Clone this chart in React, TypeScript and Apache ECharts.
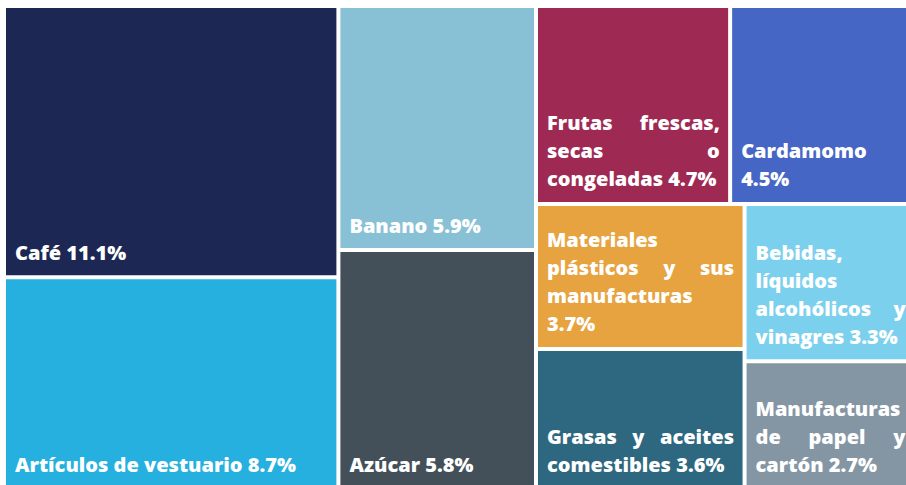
import React, { useEffect, useRef } from "react";
import * as echarts from "echarts";

const categories = [
  "Café",
  "Artículos de vestuario",
  "Banano",
  "Azúcar",
  "Frutas frescas, secas o congeladas",
  "Cardamomo",
  "Materiales plásticos y sus manufacturas",
  "Grasas y aceites comestibles",
  "Bebidas, líquidos alcohólicos y vinagres",
  "Manufacturas de papel y cartón",
];
const shares = [11.1, 8.7, 5.9, 5.8, 4.7, 4.5, 3.7, 3.6, 3.3, 2.7];
const colors = [
  "#1c2754",
  "#25b0e0",
  "#88c1d6",
  "#435059",
  "#9e2a54",
  "#4666c5",
  "#e6a33f",
  "#2e6880",
  "#7bd0ee",
  "#8496a3",
];

const FONT_FAMILY = "Open Sans";
const FONT_WEIGHT = 800;
const FONT_SIZE = 20;
const LINE_H = 28;
const PAD_L = 9;
const PAD_R = 8;
const PAD_B = 9;

export default function App() {
  const ref = useRef<HTMLDivElement>(null);
  useEffect(() => {
    if (!ref.current) return;
    const chart = echarts.init(ref.current, null, { renderer: "svg" });
    const labelText = (i: number) => `${categories[i]} ${shares[i]}%`;
    const baseLabel = {
      show: true,
      position: "insideBottomLeft",
      distance: 0,
      padding: [0, PAD_R, PAD_B, PAD_L],
      color: "#ffffff",
      fontFamily: FONT_FAMILY,
      fontWeight: FONT_WEIGHT,
      fontSize: FONT_SIZE,
      lineHeight: LINE_H,
      overflow: "break",
    };
    const makeData = (labels?: any[]) =>
      categories.map((name, i) => ({
        name,
        value: shares[i],
        itemStyle: { color: colors[i] },
        ...(labels ? { label: labels[i] } : {}),
      }));
    const baseOption = {
      animation: false,
      backgroundColor: "#ffffff",
      series: [
        {
          type: "treemap",
          left: 6,
          top: 8,
          width: 908,
          height: 480,
          roam: false,
          nodeClick: false,
          breadcrumb: { show: false },
          squareRatio: 1,
          itemStyle: { borderWidth: 0, gapWidth: 4, borderColor: "#ffffff" },
          levels: [{ itemStyle: { borderWidth: 0, gapWidth: 4 } }],
          label: { ...baseLabel, formatter: (p: any) => `${p.name} ${p.value}%` },
          data: makeData(),
        },
      ],
    };
    chart.setOption(baseOption as any);

    // Justified, bottom-placed labels (as in the reference), built from each cell's layout.
    try {
      const canvas = document.createElement("canvas");
      const ctx = canvas.getContext("2d")!;
      ctx.font = `${FONT_WEIGHT} ${FONT_SIZE}px "${FONT_FAMILY}"`;
      const mw = (s: string) => ctx.measureText(s).width;
      const spaceW = mw(" ");
      const seriesModel = (chart as any).getModel().getSeriesByIndex(0);
      const sdata = seriesModel.getData();
      const layoutByName: Record<string, any> = {};
      for (let k = 0; k < sdata.count(); k++) {
        const lay = sdata.getItemLayout(k);
        const nm = sdata.getName(k);
        if (lay && nm) layoutByName[nm] = lay;
      }
      const wordStyle = {
        fontFamily: FONT_FAMILY,
        fontWeight: FONT_WEIGHT,
        fontSize: FONT_SIZE,
        lineHeight: LINE_H,
        color: "#ffffff",
      };
      const labels = categories.map((name, i) => {
        const lay = layoutByName[name];
        if (!lay) return undefined;
        const avail = lay.width - PAD_L - PAD_R;
        const words = labelText(i).split(" ");
        const lines: string[][] = [];
        let cur: string[] = [];
        let curW = 0;
        for (const w of words) {
          const ww = mw(w);
          if (cur.length === 0) {
            cur = [w];
            curW = ww;
          } else if (curW + spaceW + ww <= avail) {
            cur.push(w);
            curW += spaceW + ww;
          } else {
            lines.push(cur);
            cur = [w];
            curW = ww;
          }
        }
        if (cur.length) lines.push(cur);
        const spH = Math.max(1, lay.height - PAD_B - lines.length * LINE_H);
        const rich: Record<string, any> = {
          w: wordStyle,
          sp: { fontSize: 1, lineHeight: spH, height: spH, color: "rgba(0,0,0,0)" },
        };
        let g = 0;
        const parts = lines.map((ln, li) => {
          const last = li === lines.length - 1;
          if (last || ln.length < 2) return `{w|${ln.join(" ")}}`;
          const total = ln.reduce((a, w) => a + mw(w), 0);
          const gap = Math.max(
            spaceW,
            Math.floor(((avail - total) / (ln.length - 1)) * 10) / 10 - 0.2
          );
          const key = `g${g++}`;
          rich[key] = { ...wordStyle, width: gap };
          return ln.map((w) => `{w|${w}}`).join(`{${key}| }`);
        });
        return {
          ...baseLabel,
          position: "insideTopLeft",
          padding: [0, PAD_R, 0, PAD_L],
          overflow: "none",
          formatter: ["{sp| }", ...parts].join("\n"),
          rich,
        };
      });
      if (labels.every((l) => l)) {
        chart.setOption({ series: [{ data: makeData(labels) }] } as any);
      }
    } catch (e) {
      // keep plain labels
    }
    return () => chart.dispose();
  }, []);
  return (
    <div
      ref={ref}
      style={{ position: "fixed", left: 0, top: 0, width: 906, height: 485, overflow: "hidden" }}
    />
  );
}
